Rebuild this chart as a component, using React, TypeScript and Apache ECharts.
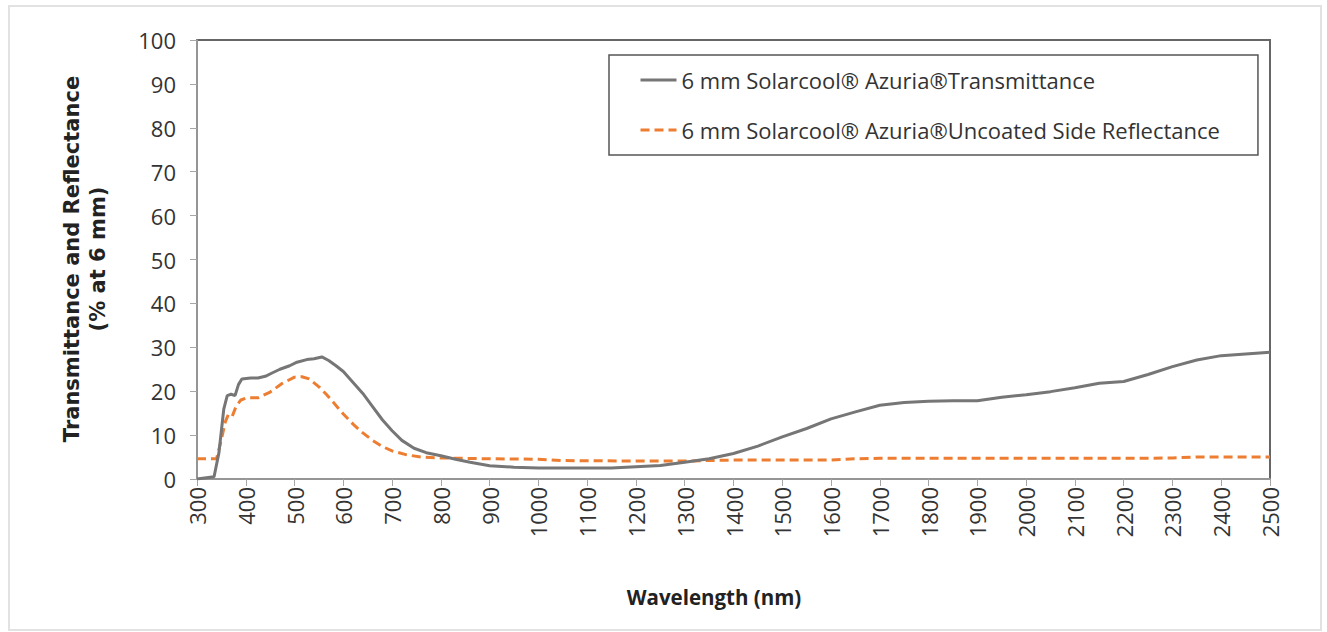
import React, { useEffect, useRef } from "react";
import * as echarts from "echarts";

const transWavelengths = [300, 335, 345, 355, 362, 370, 378, 385, 392, 410, 425, 440, 455, 470, 490, 505, 525, 540, 556, 570, 585, 600, 620, 640, 660, 680, 700, 720, 745, 770, 800, 830, 860, 900, 950, 1000, 1050, 1100, 1150, 1200, 1250, 1300, 1350, 1400, 1450, 1500, 1550, 1600, 1650, 1700, 1750, 1800, 1850, 1900, 1950, 2000, 2050, 2100, 2150, 2200, 2250, 2300, 2350, 2400, 2450, 2500];
const transValues = [0, 0.5, 6, 16, 19, 19.3, 19, 21.5, 22.8, 23, 23, 23.4, 24.2, 25, 25.8, 26.6, 27.2, 27.4, 27.8, 27, 25.8, 24.5, 22, 19.5, 16.5, 13.5, 11, 8.8, 7, 6, 5.3, 4.5, 3.8, 3.0, 2.7, 2.5, 2.5, 2.5, 2.5, 2.8, 3.1, 3.8, 4.6, 5.8, 7.5, 9.6, 11.5, 13.7, 15.3, 16.8, 17.4, 17.7, 17.8, 17.8, 18.6, 19.2, 19.9, 20.8, 21.8, 22.2, 23.8, 25.6, 27.1, 28.1, 28.5, 28.9];

const reflWavelengths = [300, 340, 350, 358, 364, 372, 380, 390, 402, 425, 450, 475, 500, 515, 530, 550, 565, 580, 600, 620, 640, 660, 680, 700, 730, 760, 800, 900, 1000, 1050, 1200, 1300, 1400, 1500, 1600, 1650, 1700, 2000, 2250, 2300, 2350, 2500];
const reflValues = [4.6, 4.6, 9, 13, 14.6, 14.2, 16.5, 18, 18.5, 18.5, 19.8, 21.8, 23.2, 23.3, 22.8, 21, 19.3, 17.4, 14.8, 12.5, 10.5, 8.8, 7.4, 6.4, 5.5, 5.0, 4.8, 4.6, 4.5, 4.2, 4.1, 4.1, 4.3, 4.3, 4.3, 4.6, 4.7, 4.7, 4.7, 4.8, 5.0, 5.0];

const seriesNames = [
  "6 mm Solarcool® Azuria®Transmittance",
  "6 mm Solarcool® Azuria®Uncoated Side Reflectance",
];
const xTitle = "Wavelength (nm)";
const yTitle = "Transmittance and Reflectance\n(% at 6 mm)";

export default function App() {
  const ref = useRef<HTMLDivElement>(null);
  useEffect(() => {
    if (!ref.current) return;
    const chart = echarts.init(ref.current, null, { renderer: "svg" });
    const pair = (xs: number[], ys: number[]) => xs.map((x, i) => [x, ys[i]]);
    chart.setOption({
      animation: false,
      backgroundColor: "#ffffff",
      grid: {
        left: 197,
        right: 57,
        top: 40,
        bottom: 153,
        show: true,
        borderColor: "#666666",
        borderWidth: 2,
      },
      legend: {
        orient: "vertical",
        left: 609,
        top: 55,
        padding: [14, 38, 14, 30],
        itemGap: 28,
        itemWidth: 36,
        itemHeight: 14,
        borderColor: "#555555",
        borderWidth: 1.5,
        itemStyle: { opacity: 0 },
        lineStyle: { width: 3 },
        textStyle: { fontFamily: "Open Sans", fontSize: 22, color: "#333333" },
        data: seriesNames,
      },
      xAxis: {
        type: "value",
        min: 300,
        max: 2500,
        interval: 100,
        axisLine: { show: true, lineStyle: { color: "#a6a6a6", width: 1.5 } },
        axisTick: { show: true, length: 7, lineStyle: { color: "#a6a6a6" } },
        splitLine: { show: false },
        axisLabel: {
          rotate: 90,
          margin: 8,
          fontFamily: "Open Sans",
          fontSize: 22,
          color: "#333333",
          formatter: (v: number) => String(v),
        },
      },
      yAxis: {
        type: "value",
        min: 0,
        max: 100,
        interval: 10,
        axisLine: { show: true, lineStyle: { color: "#a6a6a6", width: 1.5 } },
        axisTick: { show: true, length: 7, lineStyle: { color: "#a6a6a6" } },
        splitLine: { show: false },
        axisLabel: {
          margin: 21,
          fontFamily: "Open Sans",
          fontSize: 22,
          color: "#333333",
        },
      },
      graphic: [
        {
          type: "rect",
          shape: { x: 9, y: 6, width: 1312, height: 624 },
          style: { fill: "none", stroke: "#e2e2e2", lineWidth: 2 },
          silent: true,
        },
        {
          type: "text",
          x: 714,
          y: 597,
          style: {
            text: xTitle,
            fontFamily: "Open Sans",
            fontWeight: "bold",
            fontSize: 20.5,
            fill: "#222222",
            align: "center",
            verticalAlign: "middle",
          },
        },
        {
          type: "text",
          x: 85,
          y: 259,
          rotation: Math.PI / 2,
          style: {
            text: yTitle,
            fontFamily: "DejaVu Sans",
            fontWeight: "bold",
            fontSize: 21,
            lineHeight: 26,
            fill: "#222222",
            align: "center",
            verticalAlign: "middle",
          },
        },
      ],
      series: [
        {
          name: seriesNames[0],
          type: "line",
          data: pair(transWavelengths, transValues),
          showSymbol: false,
          symbol: "none",
          lineStyle: { color: "#767676", width: 3 },
          itemStyle: { color: "#767676" },
          z: 3,
        },
        {
          name: seriesNames[1],
          type: "line",
          data: pair(reflWavelengths, reflValues),
          showSymbol: false,
          symbol: "none",
          lineStyle: { color: "#ed7d31", width: 3, type: [9, 5] },
          itemStyle: { color: "#ed7d31" },
          z: 2,
        },
      ],
    });
    return () => chart.dispose();
  }, []);
  return (
    <div
      ref={ref}
      style={{ position: "fixed", left: 0, top: 0, width: 1327, height: 632 }}
    />
  );
}
